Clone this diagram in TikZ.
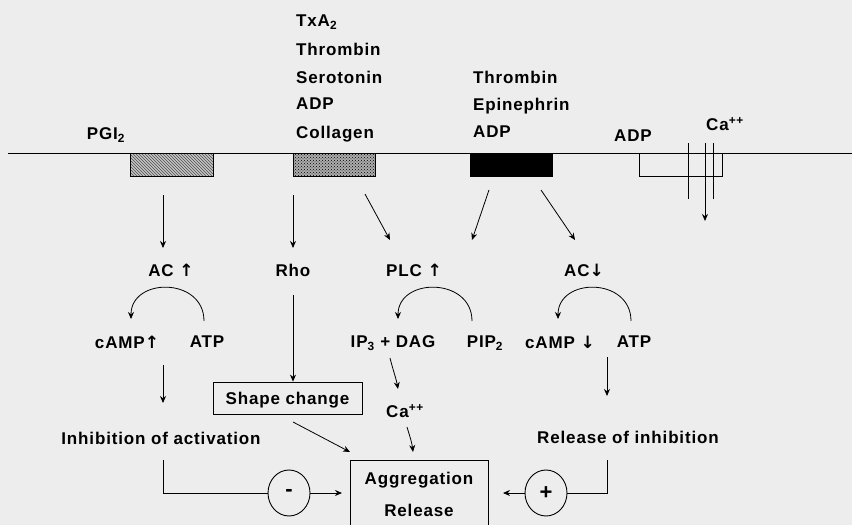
\documentclass[tikz,border=0pt]{standalone}
\usepackage{fontspec}
\setmainfont{Liberation Sans}[LetterSpace=5]
\newfontfamily\arrowfont{DejaVu Sans}
\newcommand{\upar}{{\arrowfont\char"2191}}
\newcommand{\dnar}{{\arrowfont\char"2193}}
\usetikzlibrary{arrows.meta,patterns,shapes.geometric}
\definecolor{bg}{RGB}{237,237,237}
\begin{document}
\begin{tikzpicture}[x=1pt,y=-1pt,
  lbl/.style={font=\fontsize{17}{20}\selectfont\bfseries, inner sep=0pt, text depth=0pt},
  arr/.style={-{Stealth[length=7pt,width=6pt]}, line width=0.8pt},
  ln/.style={line width=0.8pt},
  sign/.style={draw, ellipse, line width=0.9pt, minimum width=42pt, minimum height=46pt, inner sep=0pt, font=\fontsize{22}{22}\selectfont\bfseries}
]
\fill[bg] (0,0) rectangle (852,525);
\useasboundingbox (0,0) rectangle (852,525);
% membrane
\coordinate (mL) at (8,153);
\coordinate (mR) at (852,153);
\draw[ln] (mL) -- (mR);
% receptors
\draw[ln, fill=gray!45] (130,153) rectangle (213,176);
\fill[pattern=north west lines, pattern color=black!70] (130,153) rectangle (213,176);
\draw[ln] (130,153) rectangle (213,176);
\draw[ln, fill=gray!65] (293,153) rectangle (375,176);
\fill[pattern=crosshatch dots, pattern color=black] (293,153) rectangle (375,176);
\draw[ln] (293,153) rectangle (375,176);
\draw[ln, fill=black] (470,153) rectangle (552,176);
% ADP receptor and Ca channel
\draw[ln] (639,153) -- (639,176) -- (722,176) -- (722,153);
\draw[ln] (688,143) -- (688,199);
\draw[ln] (713,143) -- (713,199);
\coordinate (caT) at (705,143);
\coordinate (caB) at (705,221);
\draw[arr] (caT) -- (caB);
% ligand labels
\node[lbl] (pgi) at (106,134) {PGI\textsubscript{2}};
\node[lbl, anchor=west] (l1) at (296,21) {TxA\textsubscript{2}};
\node[lbl, anchor=west] (l2) at (296,49) {Thrombin};
\node[lbl, anchor=west] (l3) at (296,77) {Serotonin};
\node[lbl, anchor=west] (l4) at (296,104) {ADP};
\node[lbl, anchor=west] (l5) at (296,132) {Collagen};
\node[lbl, anchor=west] (m1) at (473,77) {Thrombin};
\node[lbl, anchor=west] (m2) at (473,104) {Epinephrin};
\node[lbl, anchor=west] (m3) at (473,132) {ADP};
\node[lbl] (adp) at (633,136) {ADP};
\node[lbl] (ca) at (725,124) {Ca\textsuperscript{++}};
% second row
\node[lbl] (acu) at (171,270) {AC \upar};
\node[lbl] (rho) at (293,270) {Rho};
\node[lbl] (plc) at (414,270) {PLC \upar};
\node[lbl] (acd) at (584,270) {AC\dnar};
% arrows from receptors
\coordinate (p1) at (163,195); \coordinate (p2) at (163,248);
\draw[arr] (p1) -- (p2);
\coordinate (c1) at (293,195); \coordinate (c2) at (293,248);
\draw[arr] (c1) -- (c2);
\coordinate (c3) at (365,194); \coordinate (c4) at (390,240);
\draw[arr] (c3) -- (c4);
\coordinate (b1) at (489,190); \coordinate (b2) at (472,240);
\draw[arr] (b1) -- (b2);
\coordinate (b3) at (541,190); \coordinate (b4) at (575,240);
\draw[arr] (b3) -- (b4);
% third row
\node[lbl] (campu) at (127,342) {cAMP\upar};
\node[lbl] (atp1) at (207,342) {ATP};
\node[lbl] (ipdag) at (393,342) {IP\textsubscript{3} + DAG};
\node[lbl] (pip) at (485,342) {PIP\textsubscript{2}};
\node[lbl] (campd) at (560,342) {cAMP \dnar};
\node[lbl] (atp2) at (634,342) {ATP};
% arcs
\draw[arr] (204,321) .. controls (204,277) and (131,277) .. (131,319);
\draw[arr] (472,321) .. controls (472,277) and (398,277) .. (398,319);
\draw[arr] (631,321) .. controls (631,277) and (558,277) .. (558,319);
% lower part
\node[lbl, draw, line width=0.8pt, minimum width=149pt, minimum height=32pt] (shape) at (287.5,398) {Shape change};
\coordinate (r1) at (293,295);
\draw[arr] (r1) -- (shape.north -| r1);
\coordinate (cu1) at (163,365); \coordinate (cu2) at (163,403);
\draw[arr] (cu1) -- (cu2);
\coordinate (cd1) at (607,357); \coordinate (cd2) at (607,396);
\draw[arr] (cd1) -- (cd2);
\coordinate (ip1) at (390,358); \coordinate (ip2) at (398,389);
\draw[arr] (ip1) .. controls (393,370) and (396,378) .. (ip2);
\node[lbl] (ca2) at (405,411) {Ca\textsuperscript{++}};
\coordinate (ca3) at (407,427); \coordinate (ca4) at (413,452);
\draw[arr] (ca3) .. controls (410,437) and (412,443) .. (ca4);
\coordinate (s1) at (293,422); \coordinate (s2) at (350,452);
\draw[arr] (s1) -- (s2);
\node[lbl] (inh) at (161,438) {Inhibition of activation};
\node[lbl] (rel) at (628,437) {Release of inhibition};
% aggregation box
\draw[ln] (350,540) -- (350,460) -- (488,460) -- (488,540);
\coordinate (aggW) at (350,493);
\coordinate (aggE) at (488,493);
\node[lbl] (agg) at (419,478) {Aggregation};
\node[lbl] (relb) at (419,510) {Release};
% signs
\node[sign] (minus) at (289,493) {-};
\node[sign] (plus) at (546,493) {+};
\coordinate (lt) at (163,460);
\draw[ln] (lt) |- (minus.west);
\draw[arr] (minus.east) -- (342,493);
\coordinate (rt) at (607,460);
\draw[ln] (rt) |- (plus.east);
\draw[arr] (plus.west) -- (503,493);
\end{tikzpicture}
\end{document}
